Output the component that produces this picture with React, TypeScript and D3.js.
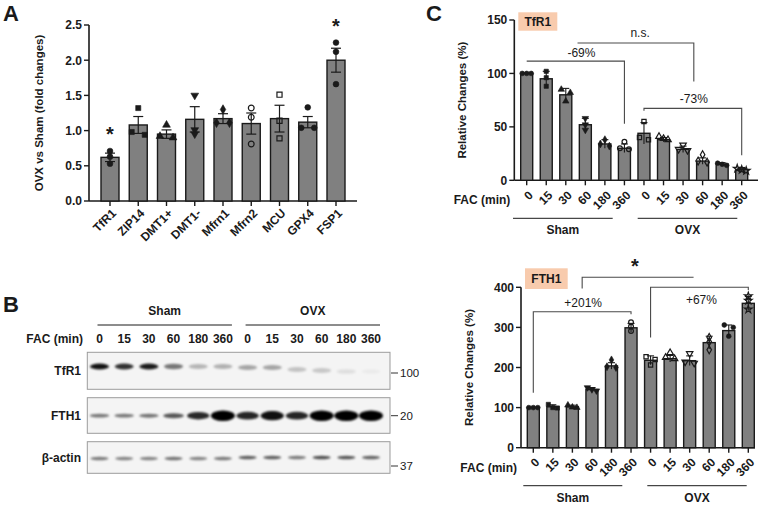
import React from "react";
import * as d3 from "d3";

// ---------- DATA ----------
// Panel A
const genesA = ["TfR1", "ZIP14", "DMT1+", "DMT1-", "Mfrn1", "Mfrn2", "MCU", "GPX4", "FSP1"];
const meanA = [0.62, 1.08, 0.95, 1.16, 1.17, 1.1, 1.17, 1.12, 2.0];
const semA = [0.06, 0.12, 0.06, 0.18, 0.07, 0.15, 0.19, 0.08, 0.17];
const pointsA = [
  [0.71, 0.63, 0.53],
  [1.32, 0.94, 0.98],
  [1.08, 0.9, 0.92],
  [1.5, 1.01, 0.95],
  [1.3, 1.11, 1.11],
  [1.32, 1.19, 0.81],
  [1.51, 1.14, 0.89],
  [1.33, 1.04, 1.04],
  [2.25, 2.12, 1.66],
];
const signifA = ["*", "", "", "", "", "", "", "", "*"];
const yTicksA = [0, 0.5, 1.0, 1.5, 2.0, 2.5];

// Panel B / C common
const facLabels = ["0", "15", "30", "60", "180", "360"];
const groupNames = ["Sham", "OVX"];

// Panel B (band intensity, 0-1, read from blot)
const blotRows = ["TfR1", "FTH1", "β-actin"];
const blotMarkers = ["100", "20", "37"];
const tfr1Band = [0.95, 0.85, 0.92, 0.62, 0.38, 0.4, 0.45, 0.45, 0.32, 0.3, 0.18, 0.1];
const tfr1Migration = [0, 0, 0, 0, 0, 0, 1, 1, 3, 4, 5, 5];
const fth1Band = [0.42, 0.42, 0.44, 0.58, 0.8, 1.0, 0.82, 0.92, 0.82, 1.0, 1.0, 1.0];
const actinBand = [0.55, 0.5, 0.5, 0.58, 0.5, 0.55, 0.68, 0.68, 0.55, 0.75, 0.72, 0.66];
const actinMigration = [0, 0, 0, 0, 0, 0, -1, -1, -1, -1, -1, -1];

// Panel C top (TfR1)
const tfr1Mean = [100, 95, 80, 52, 34, 30, 44, 38, 29, 18, 15, 10];
const tfr1SD = [0.5, 7, 6, 6, 4, 4, 10, 2, 3, 3, 1.5, 2];
const tfr1Points = [
  [100, 100, 100], [102, 96, 88], [85, 82, 74], [58, 52, 47], [38, 34, 32], [36, 30, 29],
  [55, 38, 40], [41, 39, 38], [33, 29, 28], [24, 18, 17], [16, 15, 14], [11, 10, 9],
];
const tfr1Yticks = [0, 50, 100, 150];

// Panel C bottom (FTH1)
const fth1Mean = [100, 102, 102, 145, 204, 299, 218, 222, 217, 262, 292, 360];
const fth1SD = [1, 5, 4, 5, 8, 11, 11, 8, 12, 16, 14, 17];
const fth1Points = [
  [100, 100, 100], [108, 100, 99], [106, 101, 100], [150, 145, 142], [219, 202, 200], [313, 302, 291],
  [227, 220, 206], [237, 225, 222], [235, 214, 211], [275, 264, 244], [306, 300, 278], [378, 367, 345],
];
const fth1Yticks = [0, 100, 200, 300, 400];

// Comparison brackets (bar index, value units)
const tfr1Brackets = [
  { x1: 0, x2: 5, y: 111.5, d1: null, d2: 53, label: "-69%", lx: 2.8, ly: 115 },
  { x1: 2.6, x2: 8.55, y: 128.5, d1: null, d2: 92.5, label: "n.s.", lx: 5.8, ly: 134 },
  { x1: 6, x2: 11, y: 67.3, d1: 65, d2: 23.5, label: "-73%", lx: 8.55, ly: 72 },
];
const fth1Brackets = [
  { x1: 2.5, x2: 8.2, y: 425, d1: 397, d2: null, label: "*", lx: 5.2, ly: 436, big: true },
  { x1: 0, x2: 5, y: 339, d1: 137, d2: 333, label: "+201%", lx: 2.55, ly: 350 },
  { x1: 6, x2: 11, y: 400, d1: 275, d2: 393, label: "+67%", lx: 8.6, ly: 358 },
];

// ---------- STYLE ----------
const FONT = "'Liberation Sans', Arial, Helvetica, sans-serif";
const INK = "#1a1a1a";
const BAR = "#808080";
const LINE = "#4a4a4a";

const markersA = [
  { k: "circle", f: true }, { k: "square", f: true }, { k: "triangle", f: true }, { k: "triDown", f: true },
  { k: "diamond", f: true }, { k: "circle", f: false }, { k: "square", f: false }, { k: "circle", f: true },
  { k: "circle", f: true },
];
const markersC = [
  { k: "circle", f: true }, { k: "square", f: true }, { k: "triangle", f: true }, { k: "triDown", f: true },
  { k: "diamond", f: true }, { k: "circle", f: false },
  { k: "square", f: false }, { k: "triangle", f: false }, { k: "triDown", f: false }, { k: "diamond", f: false },
  { k: "circle", f: true }, { k: "star", f: false },
];

function symPath(kind: string, size: number) {
  const t =
    kind === "square" ? d3.symbolSquare :
    kind === "triangle" || kind === "triDown" ? d3.symbolTriangle :
    kind === "diamond" ? d3.symbolDiamond :
    kind === "star" ? d3.symbolStar : d3.symbolCircle;
  return d3.symbol().type(t).size(size)() as string;
}

function clusterOffsets(vals: number[], y: (v: number) => number, thresh: number, spread: number) {
  const idx = vals.map((_, i) => i).sort((a, b) => y(vals[a]) - y(vals[b]));
  const offs = new Array(vals.length).fill(0);
  let cl: number[] = [];
  const flush = () => {
    const n = cl.length;
    cl.forEach((k, j) => { offs[k] = n === 1 ? 0 : (j - (n - 1) / 2) * (n === 2 ? 2 * spread : spread); });
    cl = [];
  };
  idx.forEach((k) => {
    if (cl.length && Math.abs(y(vals[k]) - y(vals[cl[cl.length - 1]])) > thresh) flush();
    cl.push(k);
  });
  flush();
  return offs;
}

function Marker({ x, y, m, size }: any) {
  const sw = m.f ? 0.6 : 1.2;
  return (
    <path
      d={symPath(m.k, size)}
      transform={`translate(${x},${y})${m.k === "triDown" ? " rotate(180)" : ""}`}
      fill={m.f ? INK : "none"}
      stroke={INK}
      strokeWidth={sw}
    />
  );
}

// ---------- PANEL A ----------
function PanelA() {
  const x = d3.scalePoint<string>().domain(genesA).range([110, 336]);
  const y = d3.scaleLinear().domain([0, 2.5]).range([201, 25]);
  const axX = 89;
  const bw = 18;
  return (
    <g fontFamily={FONT}>
      <text x={3} y={21} fontSize={22} fontWeight="bold" fill={INK}>A</text>
      <line x1={axX} x2={axX} y1={y(2.5)} y2={y(0)} stroke={INK} strokeWidth={1.6} />
      <line x1={axX} x2={357} y1={y(0)} y2={y(0)} stroke={INK} strokeWidth={1.6} />
      {yTicksA.map((t) => (
        <g key={t}>
          <line x1={axX - 5} x2={axX} y1={y(t)} y2={y(t)} stroke={INK} strokeWidth={1.4} />
          <text x={axX - 7} y={y(t)} dy="0.36em" textAnchor="end" fontSize={12} fontWeight="bold" fill={INK}>
            {t.toFixed(1)}
          </text>
        </g>
      ))}
      <text transform={`translate(43,${(y(0) + y(2.5)) / 2}) rotate(-90)`} textAnchor="middle" fontSize={11.5} fontWeight="bold" fill={INK}>
        OVX vs Sham (fold changes)
      </text>
      {genesA.map((g, i) => {
        const cx = x(g)!;
        const offs = clusterOffsets(pointsA[i], y, 4, 6.5);
        const top = Math.max(meanA[i] + semA[i], ...pointsA[i]);
        return (
          <g key={g}>
            <rect x={cx - bw / 2} y={y(meanA[i])} width={bw} height={y(0) - y(meanA[i])} fill={BAR} stroke={INK} strokeWidth={1.4} />
            <line x1={cx} x2={cx} y1={y(meanA[i] - semA[i])} y2={y(meanA[i] + semA[i])} stroke={INK} strokeWidth={1.2} />
            <line x1={cx - 5} x2={cx + 5} y1={y(meanA[i] + semA[i])} y2={y(meanA[i] + semA[i])} stroke={INK} strokeWidth={1.2} />
            <line x1={cx - 5} x2={cx + 5} y1={y(meanA[i] - semA[i])} y2={y(meanA[i] - semA[i])} stroke={INK} strokeWidth={1.2} />
            {pointsA[i].map((v, j) => (
              <Marker key={j} x={cx + offs[j]} y={y(v)} m={markersA[i]} size={26} />
            ))}
            {signifA[i] && (
              <text x={cx} y={y(top) - 10} textAnchor="middle" fontSize={20} fontWeight="bold" fill={INK}>{signifA[i]}</text>
            )}
            <line x1={cx} x2={cx} y1={y(0)} y2={y(0) + 5} stroke={INK} strokeWidth={1.4} />
            <text transform={`translate(${cx + 4},${y(0) + 10}) rotate(-45)`} textAnchor="end" dy="0.35em" fontSize={12} fontWeight="bold" fill={INK}>
              {g}
            </text>
          </g>
        );
      })}
    </g>
  );
}

// ---------- PANEL B ----------
function PanelB() {
  const lanes = d3.range(12);
  const x = d3.scalePoint<number>().domain(lanes).range([99.5, 371]);
  const boxes = [
    { y0: 352.3, y1: 389.3, cy: 366.5 },
    { y0: 397.7, y1: 433.3, cy: 415.7 },
    { y0: 441.7, y1: 473.3, cy: 458.5 },
  ];
  const markerY = [373, 415.7, 466];
  const bands = [tfr1Band, fth1Band, actinBand];
  const mig = [tfr1Migration, lanes.map(() => 0), actinMigration];
  const labels = lanes.map((i) => facLabels[i % 6]);
  return (
    <g fontFamily={FONT}>
      <defs>
        <filter id="bandBlur" x="-50%" y="-100%" width="200%" height="300%">
          <feGaussianBlur stdDeviation="1.3 1.1" />
        </filter>
      </defs>
      <text x={3} y={312} fontSize={22} fontWeight="bold" fill={INK}>B</text>
      {groupNames.map((gname, gi) => {
        const a = x(gi * 6)! - 2;
        const b = x(gi * 6 + 5)! + 9;
        return (
          <g key={gname}>
            <text x={(a + b) / 2} y={315} textAnchor="middle" fontSize={12} fontWeight="bold" fill={INK}>{gname}</text>
            <line x1={a} x2={b} y1={325} y2={325} stroke={INK} strokeWidth={1} />
          </g>
        );
      })}
      <text x={83} y={343} textAnchor="end" fontSize={12} fontWeight="bold" fill={INK}>FAC (min)</text>
      {lanes.map((i) => (
        <text key={i} x={x(i)} y={343} textAnchor="middle" fontSize={12} fontWeight="bold" fill={INK}>{labels[i]}</text>
      ))}
      {blotRows.map((r, ri) => {
        const bx = boxes[ri];
        return (
          <g key={r}>
            <rect x={87.3} y={bx.y0} width={302.7} height={bx.y1 - bx.y0} fill="#f4f4f4" stroke="#9b9b9b" strokeWidth={1} />
            <text x={81} y={(bx.y0 + bx.y1) / 2} dy="0.36em" textAnchor="end" fontSize={12} fontWeight="bold" fill={INK}>{r}</text>
            <g filter="url(#bandBlur)">
              {lanes.map((i) => {
                const v = bands[ri][i];
                const rx = ri === 1 ? 8 + 4 * v : ri === 0 ? 9.5 : 9;
                const ry = ri === 1 ? 1.2 + 4 * v * v : ri === 0 ? 2.2 + 0.8 * v : 1.7;
                const op = ri === 0 ? Math.pow(v, 1.4) : ri === 2 ? 0.9 * v : Math.min(1, 0.15 + 0.85 * v);
                return (
                  <ellipse key={i} cx={x(i)} cy={bx.cy + mig[ri][i]} rx={rx} ry={ry} fill="#000" fillOpacity={op} />
                );
              })}
            </g>
            <line x1={391} x2={398} y1={markerY[ri]} y2={markerY[ri]} stroke="#333" strokeWidth={1} />
            <text x={400} y={markerY[ri]} dy="0.36em" fontSize={11.5} fill={INK}>{blotMarkers[ri]}</text>
          </g>
        );
      })}
    </g>
  );
}

// ---------- PANEL C ----------
function BarPanel({ means, sds, points, yMax, yTicks, yRange, xRange, axX, axEnd, title, titleBox, brackets, yTitleX, labelsY, groupLineY, groupLabelY, groupRanges, facY, showC }: any) {
  const idx = d3.range(12);
  const x = d3.scalePoint<number>().domain(idx).range(xRange);
  const xi = (v: number) => xRange[0] + v * ((xRange[1] - xRange[0]) / 11);
  const y = d3.scaleLinear().domain([0, yMax]).range(yRange);
  const bw = 12;
  return (
    <g fontFamily={FONT}>
      {showC && <text x={426} y={21} fontSize={22} fontWeight="bold" fill={INK}>C</text>}
      <rect x={titleBox[0]} y={titleBox[1]} width={titleBox[2]} height={titleBox[3]} fill="#F8CBAD" />
      <text x={titleBox[0] + titleBox[2] / 2} y={titleBox[1] + titleBox[3] / 2} dy="0.36em" textAnchor="middle" fontSize={12} fontWeight="bold" fill={INK}>{title}</text>
      <line x1={axX} x2={axX} y1={y(yMax)} y2={y(0)} stroke={INK} strokeWidth={1.6} />
      <line x1={axX} x2={axEnd} y1={y(0)} y2={y(0)} stroke={INK} strokeWidth={1.6} />
      {yTicks.map((t: number) => (
        <g key={t}>
          <line x1={axX - 5} x2={axX} y1={y(t)} y2={y(t)} stroke={INK} strokeWidth={1.4} />
          <text x={axX - 7} y={y(t)} dy="0.36em" textAnchor="end" fontSize={12} fontWeight="bold" fill={INK}>{t}</text>
        </g>
      ))}
      <text transform={`translate(${yTitleX},${(y(0) + y(yMax)) / 2}) rotate(-90)`} textAnchor="middle" fontSize={11.5} fontWeight="bold" fill={INK}>
        Relative Changes (%)
      </text>
      {idx.map((i) => {
        const cx = x(i)!;
        const offs = clusterOffsets(points[i], y, 3.5, 4.5);
        return (
          <g key={i}>
            <rect x={cx - bw / 2} y={y(means[i])} width={bw} height={y(0) - y(means[i])} fill={BAR} stroke={INK} strokeWidth={1.4} />
            <line x1={cx} x2={cx} y1={y(means[i] - sds[i])} y2={y(means[i] + sds[i])} stroke={INK} strokeWidth={1.1} />
            <line x1={cx - 3.5} x2={cx + 3.5} y1={y(means[i] + sds[i])} y2={y(means[i] + sds[i])} stroke={INK} strokeWidth={1.1} />
            {points[i].map((v: number, j: number) => (
              <Marker key={j} x={cx + offs[j]} y={y(v)} m={markersC[i]} size={18} />
            ))}
            <line x1={cx} x2={cx} y1={y(0)} y2={y(0) + 5} stroke={INK} strokeWidth={1.4} />
            <text transform={`translate(${cx + 4},${labelsY}) rotate(-45)`} textAnchor="end" dy="0.35em" fontSize={12} fontWeight="bold" fill={INK}>
              {facLabels[i % 6]}
            </text>
          </g>
        );
      })}
      <text x={axX - 4} y={facY} textAnchor="end" fontSize={12} fontWeight="bold" fill={INK}>FAC (min)</text>
      {groupNames.map((g: string, gi: number) => (
        <g key={g}>
          <line x1={groupRanges[gi][0]} x2={groupRanges[gi][1]} y1={groupLineY} y2={groupLineY} stroke={INK} strokeWidth={1} />
          <text x={(groupRanges[gi][0] + groupRanges[gi][1]) / 2} y={groupLabelY} textAnchor="middle" fontSize={12} fontWeight="bold" fill={INK}>{g}</text>
        </g>
      ))}
      {brackets.map((b: any, k: number) => {
        const X1 = xi(b.x1), X2 = xi(b.x2), Y = y(b.y);
        return (
          <g key={k}>
            <path
              d={`M${X1},${b.d1 != null ? y(b.d1) : Y}L${X1},${Y}L${X2},${Y}L${X2},${b.d2 != null ? y(b.d2) : Y}`}
              fill="none"
              stroke={LINE}
              strokeWidth={1.1}
            />
            <text x={xi(b.lx)} y={y(b.ly)} textAnchor="middle" fontSize={b.big ? 20 : 12} fontWeight={b.big ? "bold" : "normal"} fill={INK}>
              {b.label}
            </text>
          </g>
        );
      })}
    </g>
  );
}

export default function App() {
  return (
    <svg width={765} height={505} viewBox="0 0 765 505" style={{ position: "absolute", left: 0, top: 0, background: "#fff" }}>
      <rect width={765} height={505} fill="#fff" />
      <PanelA />
      <PanelB />
      <BarPanel
        showC
        means={tfr1Mean}
        sds={tfr1SD}
        points={tfr1Points}
        yMax={150}
        yTicks={tfr1Yticks}
        yRange={[180.3, 20]}
        xRange={[526.7, 741.7]}
        axX={514.3}
        axEnd={758}
        title="TfR1"
        titleBox={[518.3, 12.3, 39, 18.4]}
        brackets={tfr1Brackets}
        yTitleX={466}
        labelsY={193}
        facY={204}
        groupLineY={218.3}
        groupLabelY={234}
        groupRanges={[[513, 612.7], [637.7, 737.3]]}
      />
      <BarPanel
        means={fth1Mean}
        sds={fth1SD}
        points={fth1Points}
        yMax={400}
        yTicks={fth1Yticks}
        yRange={[447.7, 287.3]}
        xRange={[533.3, 748.3]}
        axX={521}
        axEnd={755}
        title="FTH1"
        titleBox={[525, 268.3, 42.7, 20.7]}
        brackets={fth1Brackets}
        yTitleX={472.5}
        labelsY={460}
        facY={472}
        groupLineY={485.7}
        groupLabelY={502}
        groupRanges={[[523.3, 622.3], [647.3, 746.7]]}
      />
    </svg>
  );
}
